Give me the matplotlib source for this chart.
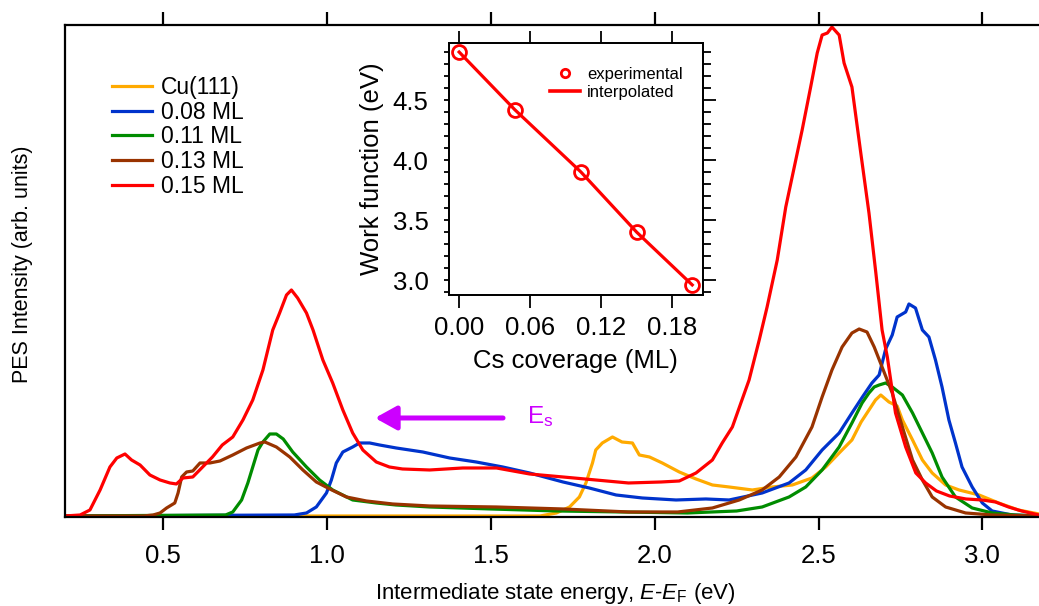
import matplotlib
matplotlib.use("Agg")
import matplotlib.pyplot as plt
from matplotlib.ticker import MultipleLocator, FormatStrFormatter
from matplotlib.lines import Line2D

plt.rcParams['font.family'] = ['Liberation Sans', 'DejaVu Sans']
plt.rcParams['mathtext.fontset'] = 'custom'
plt.rcParams['mathtext.rm'] = 'Liberation Sans'
plt.rcParams['mathtext.it'] = 'Liberation Sans:italic'

# 2PPE spectra, intermediate state energy (eV) vs intensity (arb. units)
e_cu = [0.20, 1.65, 1.70, 1.74, 1.77, 1.79, 1.81, 1.82, 1.84, 1.871, 1.90, 1.932, 1.953, 1.984,
        2.023, 2.075, 2.126, 2.176, 2.227, 2.298, 2.359, 2.42, 2.48, 2.522, 2.563, 2.602, 2.63,
        2.654, 2.674, 2.69, 2.715, 2.74, 2.756, 2.787, 2.817, 2.847, 2.888, 2.929, 2.99, 3.05,
        3.11, 3.173]
i_cu = [1, 1, 4, 10, 20, 34, 54, 67, 74, 80, 75, 74, 62, 60,
        54, 45, 38, 32, 30, 27, 30, 32, 39, 50, 64, 77, 95,
        107, 117, 122, 115, 111, 97, 77, 57, 44, 32, 27, 22, 14,
        7, 3]

e_008 = [0.20, 0.90, 0.937, 0.967, 0.998, 1.013, 1.028, 1.048, 1.078, 1.099, 1.13, 1.16, 1.211,
         1.292, 1.374, 1.455, 1.536, 1.618, 1.72, 1.80, 1.882, 1.962, 2.065, 2.156, 2.227, 2.328,
         2.41, 2.461, 2.511, 2.563, 2.602, 2.634, 2.663, 2.685, 2.705, 2.725, 2.74, 2.766, 2.776,
         2.796, 2.817, 2.837, 2.857, 2.877, 2.898, 2.918, 2.938, 2.969, 3.0, 3.03, 3.09, 3.173]
i_008 = [1, 2, 4, 10, 24, 37, 54, 65, 70, 74, 74, 72, 69,
         65, 59, 55, 50, 44, 35, 29, 22, 19, 17, 18, 17, 24,
         34, 47, 67, 84, 104, 120, 134, 142, 168, 182, 200, 205, 213,
         209, 187, 180, 157, 130, 97, 74, 50, 30, 14, 6, 2, 1]

e_011 = [0.20, 0.69, 0.712, 0.739, 0.758, 0.773, 0.789, 0.804, 0.825, 0.845, 0.866, 0.895, 0.937,
         0.977, 1.017, 1.078, 1.15, 1.21, 1.313, 1.5, 1.7, 1.9, 2.1, 2.25, 2.328, 2.41, 2.461,
         2.511, 2.563, 2.602, 2.633, 2.654, 2.67, 2.685, 2.705, 2.725, 2.756, 2.787, 2.817, 2.847,
         2.877, 2.918, 2.969, 3.03, 3.1, 3.173]
i_011 = [1, 2, 5, 17, 34, 50, 67, 75, 83, 83, 78, 65, 50,
         37, 27, 17, 14, 12, 10, 8, 6, 5, 4, 6, 10, 20, 30,
         47, 70, 94, 114, 124, 130, 132, 134, 130, 122, 104, 84, 64,
         40, 20, 9, 4, 2, 1]

e_013 = [0.20, 0.44, 0.469, 0.49, 0.51, 0.535, 0.545, 0.556, 0.571, 0.59, 0.612, 0.642, 0.673,
         0.712, 0.754, 0.795, 0.81, 0.845, 0.886, 0.926, 0.967, 1.008, 1.059, 1.12, 1.2, 1.313,
         1.517, 1.72, 1.92, 2.07, 2.176, 2.258, 2.328, 2.38, 2.431, 2.48, 2.511, 2.541, 2.572,
         2.602, 2.624, 2.648, 2.67, 2.694, 2.725, 2.756, 2.787, 2.817, 2.847, 2.888, 2.949, 3.03,
         3.173]
i_013 = [1, 1, 2, 4, 9, 14, 24, 40, 45, 46, 54, 54, 56,
         62, 69, 74, 75, 70, 60, 47, 35, 28, 20, 16, 13, 11,
         10, 8, 5, 5, 9, 17, 27, 40, 60, 90, 120, 147, 170,
         184, 188, 185, 170, 150, 124, 90, 57, 37, 20, 10, 4, 2,
         1]

e_015 = [0.20, 0.246, 0.276, 0.307, 0.337, 0.358, 0.383, 0.403, 0.429, 0.459, 0.49, 0.52, 0.54,
         0.56, 0.59, 0.62, 0.65, 0.68, 0.712, 0.743, 0.773, 0.804, 0.834, 0.855, 0.876, 0.891,
         0.91, 0.937, 0.957, 0.987, 1.017, 1.048, 1.078, 1.109, 1.15, 1.19, 1.23, 1.313, 1.414,
         1.517, 1.618, 1.72, 1.82, 1.92, 2.02, 2.075, 2.126, 2.176, 2.206, 2.237, 2.263, 2.288,
         2.319, 2.343, 2.374, 2.40, 2.426, 2.45, 2.476, 2.496, 2.511, 2.527, 2.541, 2.563, 2.578,
         2.602, 2.629, 2.654, 2.675, 2.694, 2.71, 2.735, 2.766, 2.797, 2.827, 2.86, 2.90, 2.95,
         3.0, 3.04, 3.08, 3.12, 3.173]
i_015 = [1, 2, 7, 27, 50, 59, 63, 57, 52, 42, 37, 34, 33,
         39, 40, 50, 60, 72, 80, 97, 117, 147, 187, 204, 222, 227,
         219, 204, 187, 157, 134, 107, 84, 67, 55, 50, 48, 47, 49,
         49, 43, 40, 37, 34, 35, 36, 44, 57, 74, 90, 114, 137,
         177, 210, 257, 310, 350, 387, 430, 464, 482, 484, 490, 482, 454,
         430, 364, 304, 244, 187, 160, 104, 70, 44, 34, 26, 21, 18,
         17, 15, 10, 6, 2]

labels = ['Cu(111)', '0.08 ML', '0.11 ML', '0.13 ML', '0.15 ML']
colors = ['#FFAA00', '#0033CC', '#008C00', '#993300', '#FF0000']

# work function vs Cs coverage (inset)
coverage = [0.0, 0.047, 0.103, 0.150, 0.197]
work_function = [4.90, 4.42, 3.90, 3.40, 2.96]

fig = plt.figure(figsize=(10.39, 6.06), dpi=100)
ax = fig.add_axes([0.0626, 0.1469, 0.9374, 0.8118])

spectra = [(e_cu, i_cu), (e_008, i_008), (e_011, i_011), (e_013, i_013), (e_015, i_015)]
for (e, i), lab, c in zip(spectra, labels, colors):
    ax.plot(e, i, color=c, lw=2.3, label=lab)

ax.set_xlim(0.2, 3.173)
ax.set_ylim(0, 492)
ax.set_xticks([0.5, 1.0, 1.5, 2.0, 2.5, 3.0])
ax.xaxis.set_major_formatter(FormatStrFormatter('%.1f'))
ax.set_yticks([])
ax.spines['right'].set_visible(False)
for s in ['left', 'top', 'bottom']:
    ax.spines[s].set_linewidth(1.6)
ax.tick_params(axis='x', direction='out', top=True, length=9.5, width=1.6,
               labelsize=18.5, pad=10)
ax.set_xlabel(r'Intermediate state energy, $E$-$E_\mathrm{F}$ (eV)', fontsize=16)
ax.xaxis.set_label_coords(0.5036, -0.130)
ax.set_ylabel('PES Intensity (arb. units)', fontsize=15.5)
ax.yaxis.set_label_coords(-0.033, 0.514)

ax.legend(loc='upper left', bbox_to_anchor=(0.0483, 0.897), frameon=False, fontsize=16.5,
          handlelength=1.75, handletextpad=0.4, labelspacing=0.08, borderpad=0, borderaxespad=0)

# surface state shift arrow
ax.annotate('', xy=(1.146, 99), xytext=(1.537, 99),
            arrowprops=dict(arrowstyle='-|>,head_length=0.65,head_width=0.36', color='#CC00FF',
                            lw=3.6, mutation_scale=20, shrinkA=0, shrinkB=0))
ax.text(1.61, 100, r'E$_\mathrm{s}$', color='#CC00FF', fontsize=17.5, ha='left', va='center')

# inset: work function
ins = fig.add_axes([0.432, 0.513, 0.2445, 0.416])
ins.plot(coverage, work_function, color='#FF0000', lw=2.3)
ins.plot(coverage, work_function, 'o', ms=10, mfc='none', mec='#FF0000', mew=2)
ins.set_xlim(-0.0087, 0.206)
ins.set_ylim(2.875, 4.975)
ins.set_xticks([0.0, 0.06, 0.12, 0.18])
ins.xaxis.set_major_formatter(FormatStrFormatter('%.2f'))
ins.set_yticks([3.0, 3.5, 4.0, 4.5])
ins.yaxis.set_major_formatter(FormatStrFormatter('%.1f'))
ins.yaxis.set_minor_locator(MultipleLocator(0.1))
for s in ins.spines.values():
    s.set_linewidth(1.3)
ins.tick_params(axis='x', which='major', direction='out', top=True, length=9, width=1.3,
                labelsize=18.5, pad=6)
ins.tick_params(axis='y', which='both', direction='out', length=3.5, width=1.3,
                labelsize=18.5, pad=11)
ins.set_xlabel('Cs coverage (ML)', fontsize=18.5)
ins.xaxis.set_label_coords(0.5, -0.214)
ins.set_ylabel('Work function (eV)', fontsize=18.5)
ins.yaxis.set_label_coords(-0.256, 0.5)

# longer ticks on the right side of the inset
ins_r = ins.twinx()
ins_r.set_ylim(ins.get_ylim())
ins_r.set_yticks([3.0, 3.5, 4.0, 4.5])
ins_r.yaxis.set_minor_locator(MultipleLocator(0.1))
ins_r.tick_params(which='major', direction='out', length=9.5, width=1.3, labelright=False)
ins_r.tick_params(which='minor', direction='out', length=6, width=1.3)
for s in ins_r.spines.values():
    s.set_linewidth(1.3)

handles = [Line2D([], [], ls='none', marker='o', ms=6, mfc='none', mec='#FF0000', mew=2),
           Line2D([], [], color='#FF0000', lw=2.6)]
ins.legend(handles, ['experimental', 'interpolated'], loc='upper left',
           bbox_to_anchor=(0.398, 0.906), frameon=False, fontsize=12, handlelength=1.8,
           handletextpad=0.42, labelspacing=0.2, borderpad=0, borderaxespad=0)

fig.savefig('out.png', dpi=100)
